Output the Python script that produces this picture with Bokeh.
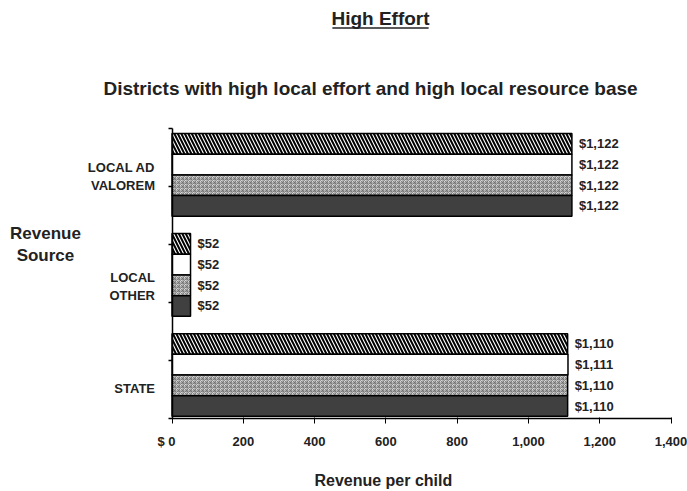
from bokeh.plotting import figure
from bokeh.models import (ColumnDataSource, Range1d, FixedTicker, Label, Arrow,
                          LinearAxis)
from bokeh.core.properties import value
from bokeh.embed import file_html
from bokeh.resources import INLINE

# Revenue per child, by source, for the four district groups
categories = ["LOCAL AD VALOREM", "LOCAL OTHER", "STATE"]
category_labels = ["LOCAL AD\nVALOREM", "LOCAL\nOTHER", "STATE"]
series_hatched = [1122, 52, 1110]
series_blank = [1122, 52, 1111]
series_dotted = [1122, 52, 1110]
series_solid = [1122, 52, 1110]
x_ticks = [0, 200, 400, 600, 800, 1000, 1200, 1400]
x_tick_labels = ["$ 0\u00a0\u00a0\u00a0", "200", "400", "600", "800", "1,000", "1,200", "1,400"]

FONT_NAME = "Liberation Sans"
FONT = value(FONT_NAME)
INK = "#222222"
BAR_H = 0.214
group_centers = [0.48 + 1.035 * i for i in range(len(categories))]
label_pos = [0.5, 1.63, 2.69]

# The plotting frame fills the whole canvas; the axes are pinned inside it
# so that titles and captions can sit around the bars as ordinary labels.
W, H = 687, 491
px_per_x = 499 / 1400
px_per_y = 290 / 3
x0 = -171.5 / px_per_x
y_top = -128 / px_per_y
p = figure(width=W, height=H, output_backend="svg", toolbar_location=None,
           x_range=Range1d(x0, x0 + W / px_per_x),
           y_range=Range1d(y_top + H / px_per_y, y_top),
           x_axis_location=None, y_axis_location=None, min_border=0)
p.outline_line_color = None
p.xgrid.visible = False
p.ygrid.visible = False
p.background_fill_color = "white"
p.border_fill_color = "white"

styles = [
    dict(fill_color="white", hatch_pattern="left_diagonal_line", hatch_scale=7,
         hatch_weight=2, hatch_color="black"),
    dict(fill_color="white"),
    dict(fill_color="#d9d9d9", hatch_pattern="criss_cross", hatch_scale=4,
         hatch_weight=0.8, hatch_color="#6e6e6e"),
    dict(fill_color="#404040"),
]
all_series = [series_hatched, series_blank, series_dotted, series_solid]

for k, (vals, st) in enumerate(zip(all_series, styles)):
    ys = [c + (k - 1.5) * BAR_H for c in group_centers]
    src = ColumnDataSource(dict(
        y=ys, value=vals, cat=categories,
        label=["${:,}".format(v) for v in vals]))
    p.hbar(y="y", left=0, right="value", height=BAR_H, source=src,
           line_color="black", line_width=1.5, **st)
    p.text(x="value", y="y", text="label", source=src, x_offset=7,
           text_baseline="middle", text_align="left", text_font=FONT,
           text_font_size="13px", text_font_style="bold", text_color=INK)

# x axis along the bottom of the bars
xa = LinearAxis(fixed_location=3, bounds=(0, 1400),
                ticker=FixedTicker(ticks=x_ticks))
xa.major_label_overrides = {t: s for t, s in zip(x_ticks, x_tick_labels)}
xa.major_label_text_font = FONT_NAME
xa.major_label_text_font_style = "bold"
xa.major_label_text_font_size = "13px"
xa.major_label_text_color = INK
xa.major_tick_out = 5
xa.major_tick_in = 1
xa.minor_tick_line_color = None
xa.major_label_standoff = 10
xa.axis_line_width = 1.5
xa.axis_line_color = "black"
xa.major_tick_line_color = "black"
p.add_layout(xa, "below")

# y axis: category names, with plain tick marks every 0.6
ya = LinearAxis(fixed_location=0, bounds=(0, 3),
                ticker=FixedTicker(ticks=label_pos,
                                   minor_ticks=[0, 0.6, 1.2, 1.8, 2.4, 3.0]))
ya.major_label_overrides = {t: s for t, s in zip(label_pos, category_labels)}
ya.major_tick_out = 0
ya.major_tick_in = 0
ya.minor_tick_out = 4
ya.minor_tick_in = 0
ya.minor_tick_line_color = "black"
ya.minor_tick_line_width = 1.5
ya.major_label_standoff = 13
ya.major_label_text_font = FONT_NAME
ya.major_label_text_font_style = "bold"
ya.major_label_text_font_size = "13px"
ya.major_label_text_color = INK
ya.axis_line_width = 1.5
ya.axis_line_color = "black"
p.add_layout(ya, "left")

# titles and axis captions
p.add_layout(Label(x=585, y=-1.14, text="High Effort", text_align="center",
                   text_baseline="middle", text_font=FONT_NAME, text_font_size="19px",
                   text_font_style="bold", text_color=INK))
p.add_layout(Arrow(end=None, x_start=450, x_end=720, y_start=-1.04, y_end=-1.04,
                   line_color=INK, line_width=1.5))
p.add_layout(Label(x=557, y=-0.41, text="Districts with high local effort and high local resource base",
                   text_align="center", text_baseline="middle", text_font=FONT_NAME,
                   text_font_size="19px", text_font_style="bold", text_color=INK))
p.add_layout(Label(x=-355, y=1.2, text="Revenue\nSource", text_align="center",
                   text_baseline="middle", text_font=FONT_NAME, text_font_size="17px",
                   text_font_style="bold", text_color=INK))
p.add_layout(Label(x=593, y=3.64, text="Revenue per child", text_align="center",
                   text_baseline="middle", text_font=FONT_NAME, text_font_size="16px",
                   text_font_style="bold", text_color=INK))

open("out.html", "w").write(file_html(p, INLINE))
